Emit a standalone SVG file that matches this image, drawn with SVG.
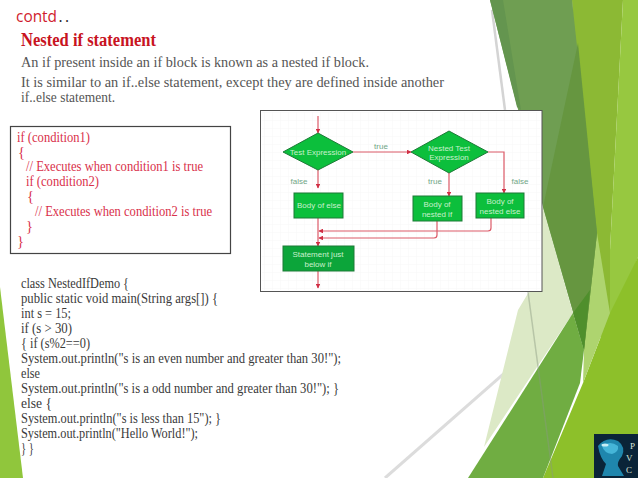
<svg xmlns="http://www.w3.org/2000/svg" width="638" height="478" viewBox="0 0 638 478">
<style>
.s{font-family:"Liberation Serif",serif}
.body{font-size:15px;fill:#555}
.code{font-size:14.5px;fill:#3a3a3a}
.red{font-size:14.5px;fill:#d9304a}
.n{font-family:"Liberation Sans",sans-serif;font-size:8px;fill:#c8f0cc;text-anchor:middle}
.l{font-family:"Liberation Sans",sans-serif;font-size:8px;fill:#6fa585;text-anchor:middle}
.c{fill:none;stroke:#dc5a68;stroke-width:1.2}
.g{fill:#0cbf3c;stroke:#1c7a36;stroke-width:1}
.logo{font-family:"Liberation Serif",serif;font-size:9px;fill:#d8e4d8}
</style>
<defs>
<marker id="a" markerWidth="4" markerHeight="4" refX="3.500" refY="2" orient="auto"><path d="M0 0L4 2L0 4z" fill="#d02f45"/></marker>
<pattern id="grid" width="8" height="8" patternUnits="userSpaceOnUse"><path d="M8 0H0V8" fill="none" stroke="#f2f2f2" stroke-width="0.6"/></pattern>
</defs>
<rect width="638" height="478" fill="#fff"/>
<g id="background">
<path d="M0 287L23 478H0z" fill="#90c63c"/>
<path d="M492 10L505 110" stroke="#d4d4d4" stroke-width="2.500"/>
<path d="M385 478L573 313" stroke="#dcdcdc" stroke-width="3"/>
<path d="M572 0H623L610 250V330L584 350z" fill="#8cb934"/>
<path d="M623 0H638V257L610 330V250z" fill="#97c840"/>
<path d="M610 313L638 257V478H543L583 383z" fill="#8dc02a"/>
<path d="M543 207L573 313L484 447L518 310L530 290z" fill="#dce9c6"/>
<path d="M597 233L610 313L583 383L584 350z" fill="#aed46f"/>
<path d="M490 0H572L597 233L584 350L543 207z" fill="#6f9e52"/>
<path d="M490 0H503L521 110L517 107z" fill="#64954f"/>
<path d="M578 43L597 233L584 350L543 207z" fill="#669640"/>
<path d="M468 478L573 313L584 350L580 383L543 478z" fill="#70ad42"/>
<path d="M573 313L590 290L584 350z" fill="#4f8f2c"/>
<path d="M528 292L553 478" stroke="#8a9a80" stroke-width="1.500" opacity=".45" fill="none"/>
</g>
<g id="heading">
<text x="16" y="22" font-family="'Open Sans',sans-serif" font-size="15.500" fill="#d01c2e" textLength="41" lengthAdjust="spacingAndGlyphs">contd</text>
<text x="58.500" y="22" font-family="'Open Sans',sans-serif" font-size="15.500" fill="#222" letter-spacing="2.500">..</text>
<text class="s" x="21" y="46" font-size="18" font-weight="bold" fill="#c8141f" textLength="135" lengthAdjust="spacingAndGlyphs">Nested if statement</text>
<text class="s body" x="21" y="67" textLength="348" lengthAdjust="spacingAndGlyphs">An if present inside an if block is known as a nested if block.</text>
<text class="s body" x="21" y="87" textLength="423" lengthAdjust="spacingAndGlyphs">It is similar to an if..else statement, except they are defined inside another</text>
<text class="s body" x="21" y="102" textLength="94" lengthAdjust="spacingAndGlyphs">if..else statement.</text>
</g>
<g id="code-box">
<rect x="10.500" y="126.500" width="220" height="127" fill="#fff" stroke="#444" stroke-width="1.200"/>
<text class="s red" x="17" y="142" textLength="73" lengthAdjust="spacingAndGlyphs">if (condition1)</text>
<text class="s red" x="18" y="157">{</text>
<text class="s red" x="26" y="171" textLength="177" lengthAdjust="spacingAndGlyphs">// Executes when condition1 is true</text>
<text class="s red" x="26" y="186" textLength="73" lengthAdjust="spacingAndGlyphs">if (condition2)</text>
<text class="s red" x="27" y="201">{</text>
<text class="s red" x="35" y="216" textLength="177" lengthAdjust="spacingAndGlyphs">// Executes when condition2 is true</text>
<text class="s red" x="26" y="231">}</text>
<text class="s red" x="17" y="246">}</text>
</g>
<g id="flowchart">
<rect x="260.500" y="110.500" width="281.500" height="181" fill="#fff" stroke="#555" stroke-width="1"/>
<rect x="262" y="112" width="278.500" height="178" fill="url(#grid)"/>
<g id="connectors">
<path class="c" d="M318 116V133" marker-end="url(#a)"/>
<path class="c" d="M353 152H411" marker-end="url(#a)"/>
<path class="c" d="M318 170V188" marker-end="url(#a)"/>
<path class="c" d="M449 173V196" marker-end="url(#a)"/>
<path class="c" d="M488 152H504V193" marker-end="url(#a)"/>
<path class="c" d="M318 218V246" marker-end="url(#a)"/>
<path class="c" d="M437 221V235Q437 238 434 238H319" marker-end="url(#a)"/>
<path class="c" d="M491 218V228Q491 231 488 231H319" marker-end="url(#a)"/>
<path class="c" d="M318 271V288" marker-end="url(#a)"/>
</g>
<g id="test-expression"><path class="g" d="M283 152L318 133L353 152L318 170z"/><text class="n" x="318" y="155">Test Expression</text></g>
<g id="nested-test"><path class="g" d="M411 152L449 131L488 152L449 173z"/><text class="n" x="449" y="150.500">Nested Test</text><text class="n" x="449" y="160">Expression</text></g>
<g id="body-else"><rect class="g" x="294" y="193" width="49" height="25"/><text class="n" x="319" y="208">Body of else</text></g>
<g id="body-nested-if"><rect class="g" x="413" y="196" width="49" height="25"/><text class="n" x="437" y="207">Body of</text><text class="n" x="437" y="217">nested if</text></g>
<g id="body-nested-else"><rect class="g" x="476" y="193" width="48" height="25"/><text class="n" x="500" y="204">Body of</text><text class="n" x="500" y="214">nested else</text></g>
<g id="statement-below"><rect class="g" x="283" y="246" width="71" height="25" style="fill:#0ca53a"/><text class="n" x="318" y="257">Statement just</text><text class="n" x="318" y="267">below if</text></g>
<text class="l" x="381" y="149">true</text>
<text class="l" x="299" y="184">false</text>
<text class="l" x="435" y="184">true</text>
<text class="l" x="520" y="184">false</text>
</g>
<g id="java-code">
<text class="s code" x="21" y="288" textLength="108" lengthAdjust="spacingAndGlyphs">class NestedIfDemo {</text>
<text class="s code" x="21" y="303" textLength="197" lengthAdjust="spacingAndGlyphs">public static void main(String args[])  {</text>
<text class="s code" x="21" y="318" textLength="50" lengthAdjust="spacingAndGlyphs">int s = 15;</text>
<text class="s code" x="21" y="333" textLength="51" lengthAdjust="spacingAndGlyphs">if (s &gt; 30)</text>
<text class="s code" x="21" y="348" textLength="69" lengthAdjust="spacingAndGlyphs">{  if (s%2==0)</text>
<text class="s code" x="21" y="363" textLength="320" lengthAdjust="spacingAndGlyphs">System.out.println("s is an even number and greater than 30!");</text>
<text class="s code" x="21" y="378" textLength="19" lengthAdjust="spacingAndGlyphs">else</text>
<text class="s code" x="21" y="393" textLength="318" lengthAdjust="spacingAndGlyphs">System.out.println("s is a odd number and greater than 30!");  }</text>
<text class="s code" x="21" y="408" textLength="31" lengthAdjust="spacingAndGlyphs">else  {</text>
<text class="s code" x="21" y="423" textLength="200" lengthAdjust="spacingAndGlyphs">System.out.println("s is less than 15");  }</text>
<text class="s code" x="21" y="438" textLength="177" lengthAdjust="spacingAndGlyphs">System.out.println("Hello World!");</text>
<text class="s code" x="21" y="453" textLength="13" lengthAdjust="spacingAndGlyphs">} }</text>
</g>
<g id="logo">
<rect x="594" y="434" width="44" height="44" fill="#0a2438"/>
<path d="M598 446Q606 436 618 441Q626 447 622 456Q617 462 618 466L624 476H602L606 464Q600 458 598 446z" fill="#1f86ad"/>
<path d="M602 446Q610 440 618 446Q619 452 612 454Q604 453 602 446z" fill="#45b5d8"/>
<ellipse cx="605" cy="445" rx="3.500" ry="1.500" fill="#c8eef5"/>
<text class="logo" x="630" y="449">P</text>
<text class="logo" x="626" y="461">V</text>
<text class="logo" x="626" y="473">C</text>
</g>
</svg>
